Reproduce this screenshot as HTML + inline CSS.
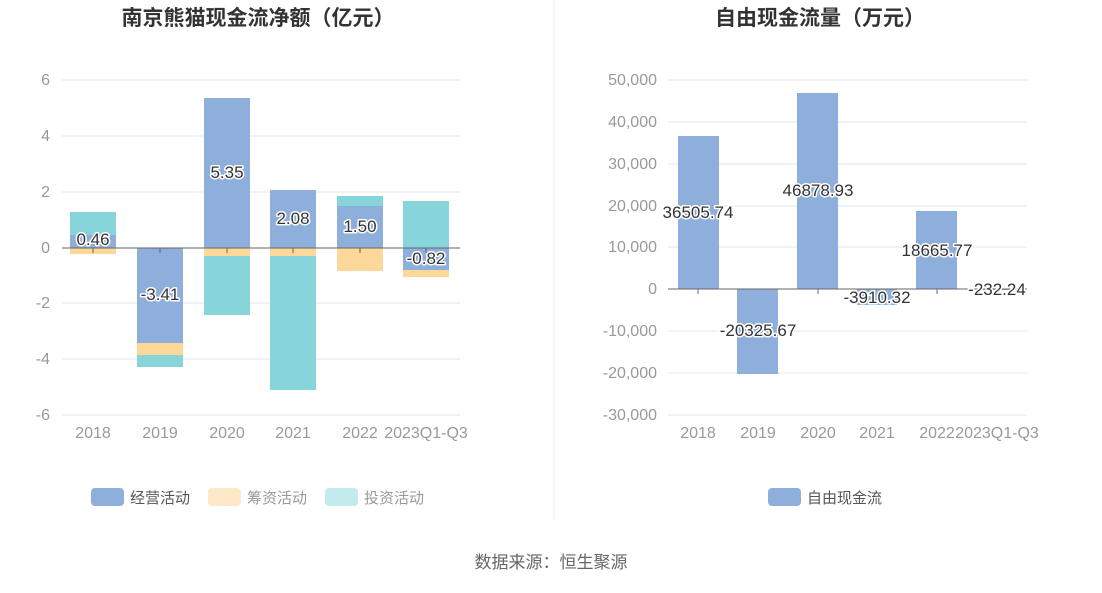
<!DOCTYPE html>
<html><head><meta charset="utf-8"><style>
body{margin:0;background:#fff;}
svg text{font-family:"Liberation Sans","Noto Sans CJK SC",sans-serif;}
.ax{fill:#999;font-size:16px;}
.lb{fill:#333;font-size:17px;stroke:#fff;stroke-width:3px;paint-order:stroke;stroke-linejoin:round;text-anchor:middle;}
.t{font-size:21px;font-weight:bold;fill:#333;text-anchor:middle;}
.g{stroke:#e3e6f3;stroke-width:1;}
</style></head><body>
<svg width="1102" height="588" xmlns="http://www.w3.org/2000/svg">
<text class="t" x="258" y="25">南京熊猫现金流净额（亿元）</text>
<text class="t" x="820" y="25">自由现金流量（万元）</text>
<line x1="554" y1="0" x2="554" y2="520" stroke="#eee"/>
<g class="g">
<line x1="62" y1="80" x2="460" y2="80"/><line x1="62" y1="136" x2="460" y2="136"/><line x1="62" y1="192" x2="460" y2="192"/>
<line x1="62" y1="303" x2="460" y2="303"/><line x1="62" y1="359" x2="460" y2="359"/><line x1="62" y1="415" x2="460" y2="415"/>
</g>
<g class="ax" text-anchor="end">
<text x="50" y="85">6</text><text x="50" y="141">4</text><text x="50" y="197">2</text><text x="50" y="253">0</text>
<text x="50" y="308">-2</text><text x="50" y="364">-4</text><text x="50" y="420">-6</text>
</g>
<g>
<rect x="70" y="212" width="46" height="23" fill="#87d5da"/><rect x="70" y="235" width="46" height="13" fill="#8eaedb"/><rect x="70" y="248" width="46" height="6" fill="#fdd89b"/>
<rect x="137" y="248" width="46" height="95" fill="#8eaedb"/><rect x="137" y="343" width="46" height="12" fill="#fdd89b"/><rect x="137" y="355" width="46" height="12" fill="#87d5da"/>
<rect x="204" y="98" width="46" height="150" fill="#8eaedb"/><rect x="204" y="248" width="46" height="8" fill="#fdd89b"/><rect x="204" y="256" width="46" height="59" fill="#87d5da"/>
<rect x="270" y="190" width="46" height="58" fill="#8eaedb"/><rect x="270" y="248" width="46" height="8" fill="#fdd89b"/><rect x="270" y="256" width="46" height="134" fill="#87d5da"/>
<rect x="337" y="196" width="46" height="10" fill="#87d5da"/><rect x="337" y="206" width="46" height="42" fill="#8eaedb"/><rect x="337" y="248" width="46" height="23" fill="#fdd89b"/>
<rect x="403" y="201" width="46" height="47" fill="#87d5da"/><rect x="403" y="248" width="46" height="22" fill="#8eaedb"/><rect x="403" y="270" width="46" height="7" fill="#fdd89b"/>
</g>
<line x1="62" y1="248" x2="460" y2="248" stroke="#666"/>
<g stroke="#666"><line x1="93" y1="248" x2="93" y2="253"/><line x1="160" y1="248" x2="160" y2="253"/><line x1="227" y1="248" x2="227" y2="253"/><line x1="293" y1="248" x2="293" y2="253"/><line x1="360" y1="248" x2="360" y2="253"/><line x1="426" y1="248" x2="426" y2="253"/></g>
<g class="lb">
<text x="93" y="245">0.46</text><text x="160" y="300">-3.41</text><text x="227" y="178">5.35</text>
<text x="293" y="224">2.08</text><text x="360" y="232">1.50</text><text x="426" y="264">-0.82</text>
</g>
<g class="ax" text-anchor="middle">
<text x="93" y="438">2018</text><text x="160" y="438">2019</text><text x="227" y="438">2020</text>
<text x="293" y="438">2021</text><text x="360" y="438">2022</text><text x="426" y="438">2023Q1-Q3</text>
</g>
<rect x="91" y="488" width="33" height="18" rx="4" fill="#8eaedb"/><text x="130" y="503" font-size="15" fill="#555">经营活动</text>
<rect x="208" y="488" width="33" height="18" rx="4" fill="#fde9c8"/><text x="247" y="503" font-size="15" fill="#999">筹资活动</text>
<rect x="325" y="488" width="33" height="18" rx="4" fill="#c3eaec"/><text x="364" y="503" font-size="15" fill="#999">投资活动</text>
<g class="g">
<line x1="668" y1="80" x2="1027" y2="80"/><line x1="668" y1="122" x2="1027" y2="122"/><line x1="668" y1="164" x2="1027" y2="164"/>
<line x1="668" y1="206" x2="1027" y2="206"/><line x1="668" y1="247" x2="1027" y2="247"/><line x1="668" y1="331" x2="1027" y2="331"/>
<line x1="668" y1="373" x2="1027" y2="373"/><line x1="668" y1="415" x2="1027" y2="415"/>
</g>
<g class="ax" text-anchor="end">
<text x="657" y="85">50,000</text><text x="657" y="127">40,000</text><text x="657" y="169">30,000</text><text x="657" y="211">20,000</text>
<text x="657" y="252">10,000</text><text x="657" y="294">0</text><text x="657" y="336">-10,000</text><text x="657" y="378">-20,000</text><text x="657" y="420">-30,000</text>
</g>
<g fill="#8eaedb">
<rect x="678" y="136" width="41" height="153"/><rect x="737" y="289" width="41" height="85"/><rect x="797" y="93" width="41" height="196"/>
<rect x="857" y="289" width="40" height="16"/><rect x="916" y="211" width="41" height="78"/><rect x="976" y="289" width="40" height="1"/>
</g>
<line x1="668" y1="289" x2="1027" y2="289" stroke="#666"/>
<g stroke="#666"><line x1="698" y1="289" x2="698" y2="294"/><line x1="818" y1="289" x2="818" y2="294"/><line x1="937" y1="289" x2="937" y2="294"/></g>
<g class="lb">
<text x="698" y="218">36505.74</text><text x="758" y="336">-20325.67</text><text x="818" y="196">46878.93</text>
<text x="877" y="303">-3910.32</text><text x="937" y="256">18665.77</text><text x="997" y="295">-232.24</text>
</g>
<g class="ax" text-anchor="middle">
<text x="698" y="438">2018</text><text x="758" y="438">2019</text><text x="818" y="438">2020</text>
<text x="877" y="438">2021</text><text x="937" y="438">2022</text><text x="997" y="438">2023Q1-Q3</text>
</g>
<rect x="768" y="488" width="33" height="18" rx="4" fill="#8eaedb"/><text x="807" y="503" font-size="15" fill="#555">自由现金流</text>
<text x="551" y="568" font-size="17" fill="#666" text-anchor="middle">数据来源：恒生聚源</text>
</svg>
</body></html>
